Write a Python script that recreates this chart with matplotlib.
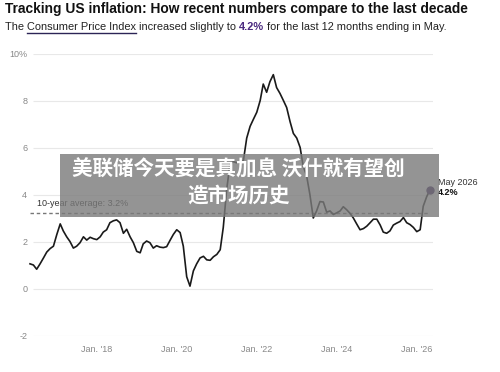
import matplotlib
matplotlib.use('Agg')
import matplotlib.pyplot as plt
from matplotlib.patches import Rectangle
import pandas as pd

# monthly CPI, 12-month change (%), May 2016 - May 2026
cpi = [1.05, 1.0, 0.82, 1.05, 1.3, 1.55, 1.7, 1.8, 2.3, 2.75,
       2.45, 2.2, 2.0, 1.72, 1.8, 1.95, 2.2, 2.06, 2.18, 2.12,
       2.08, 2.2, 2.4, 2.5, 2.8, 2.88, 2.92, 2.8, 2.35, 2.52,
       2.2, 1.95, 1.58, 1.52, 1.9, 2.02, 1.95, 1.72, 1.82, 1.76,
       1.74, 1.78, 2.05, 2.3, 2.5, 2.38, 1.8, 0.5, 0.1, 0.75,
       1.05, 1.3, 1.37, 1.22, 1.2, 1.35, 1.45, 1.65, 2.6, 4.2,
       5.3, 5.4, 5.35, 5.33, 5.45, 6.4, 6.9, 7.2, 7.5, 8.0,
       8.7, 8.35, 8.8, 9.1, 8.55, 8.3, 8.0, 7.7, 7.1, 6.6,
       6.4, 6.0, 5.2, 4.8, 4.0, 3.0, 3.3, 3.7, 3.68, 3.25,
       3.3, 3.15, 3.22, 3.3, 3.48, 3.35, 3.2, 3.0, 2.75, 2.5,
       2.55, 2.65, 2.8, 2.95, 2.95, 2.7, 2.4, 2.35, 2.45, 2.7,
       2.78, 2.85, 3.02, 2.8, 2.72, 2.6, 2.42, 2.5, 3.5, 3.9,
       4.2]
dates = pd.date_range('2016-05-01', periods=len(cpi), freq='MS')
avg = 3.2
y_ticks = [-2, 0, 2, 4, 6, 8, 10]
y_labels = ['-2', '0', '2', '4', '6', '8', '10%']
x_ticks = pd.to_datetime(['2018-01-01', '2020-01-01', '2022-01-01', '2024-01-01', '2026-01-01'])
x_labels = ["Jan. '18", "Jan. '20", "Jan. '22", "Jan. '24", "Jan. '26"]

plt.rcParams['font.family'] = ['Liberation Sans', 'DejaVu Sans']

W, H = 500, 372
fig = plt.figure(figsize=(5, 3.72), dpi=100)
ax = fig.add_axes([30 / W, 1 - 335.5 / H, 403.3 / W, 282 / H])

for v in y_ticks:
    ax.hlines(v, dates[1], pd.Timestamp('2026-05-25'), color='#e8e8e8', lw=0.8, zorder=0)
ax.hlines(avg, dates[0], dates[-1], color='#777777', lw=1.0, linestyles=(0, (2.5, 2)), zorder=1)
ax.text(dates[2], avg + 0.22, '10-year average: 3.2%', fontsize=6.5, color='#333333',
        va='bottom', ha='left')

ax.plot(dates, cpi, color='#1a1a1a', lw=1.2, zorder=3, clip_on=False)
ax.plot(dates[-1], cpi[-1], 'o', color='#3b1f5e', ms=5, zorder=4, clip_on=False)
ax.annotate('May 2026', (dates[-1], cpi[-1]), xytext=(5.5, 2), textcoords='offset points',
            fontsize=6.5, color='#333333', va='bottom', annotation_clip=False)
ax.annotate('4.2%', (dates[-1], cpi[-1]), xytext=(5.5, 1), textcoords='offset points',
            fontsize=6.5, color='#111111', fontweight='bold', va='top', annotation_clip=False)

ax.set_xlim(dates[0], pd.Timestamp('2026-06-01'))
ax.set_ylim(-2, 10)
ax.set_yticks(y_ticks)
ax.set_yticklabels(y_labels)
ax.set_xticks(x_ticks)
ax.set_xticklabels(x_labels)
ax.tick_params(axis='both', length=0, labelsize=6.5, labelcolor='#888888')
ax.tick_params(axis='y', pad=2)
ax.tick_params(axis='x', pad=7)
for s in ax.spines.values():
    s.set_visible(False)

# title and subtitle
fig.text(5 / W, 1 - 12.7 / H, 'Tracking US inflation: How recent numbers compare to the last decade',
         fontsize=9.9, fontweight='bold', color='#111111', va='baseline')

renderer = fig.canvas.get_renderer()
parts = [('The ', 'normal', '#222222', False),
         ('Consumer Price Index', 'normal', '#222222', True),
         (' increased slightly to ', 'normal', '#222222', False),
         ('4.2%', 'bold', '#4b2a80', False),
         (' for the last 12 months ending in May.', 'normal', '#222222', False)]
x = 5
for txt, wt, col, under in parts:
    t = fig.text(x / W, 1 - 30.5 / H, txt, fontsize=7.95, fontweight=wt, color=col,
                 va='baseline')
    w = t.get_window_extent(renderer).width
    if under:
        fig.add_artist(plt.Line2D([x / W, (x + w) / W], [1 - 33.3 / H] * 2,
                                  color='#2c2456', lw=1.0, transform=fig.transFigure))
    x += w

# overlay banner
fig.add_artist(Rectangle((60 / W, 1 - 217 / H), 379 / W, 63 / H, transform=fig.transFigure,
                         facecolor='#7a7a7a', alpha=0.8, edgecolor='none', zorder=5))
fig.text(238 / W, 1 - 182 / H, '美联储今天要是真加息 沃什就有望创\n造市场历史',
         family=['Noto Sans CJK SC', 'DejaVu Sans'], fontweight='bold', fontsize=14.8,
         color='white', ha='center', va='center', linespacing=1.25, zorder=6)

fig.savefig('out.png', dpi=100)
